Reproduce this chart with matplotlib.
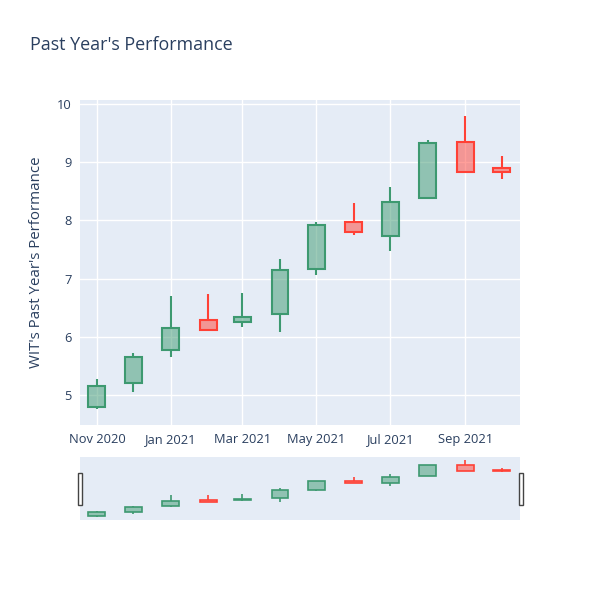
import matplotlib
matplotlib.use("Agg")
import matplotlib.pyplot as plt
import matplotlib.dates as mdates
from matplotlib.patches import Rectangle
import datetime as dt

plt.rcParams['font.family'] = ['Open Sans', 'DejaVu Sans']

dates = ["2020-11-01", "2020-12-01", "2021-01-01", "2021-02-01", "2021-03-01", "2021-04-01",
         "2021-05-01", "2021-06-01", "2021-07-01", "2021-08-01", "2021-09-01", "2021-10-01"]
opens  = [4.80, 5.21, 5.77, 6.29, 6.25, 6.40, 7.16, 7.97, 7.74, 8.39, 9.35, 8.91]
highs  = [5.27, 5.73, 6.71, 6.73, 6.76, 7.34, 7.97, 8.30, 8.58, 9.38, 9.80, 9.11]
lows   = [4.76, 5.05, 5.66, 6.10, 6.17, 6.09, 7.07, 7.75, 7.48, 8.39, 8.82, 8.71]
closes = [5.15, 5.65, 6.15, 6.12, 6.34, 7.15, 7.93, 7.80, 8.32, 9.33, 8.83, 8.84]
tick_dates = ["2020-11-01", "2021-01-01", "2021-03-01", "2021-05-01", "2021-07-01", "2021-09-01"]
tick_labels = ["Nov 2020", "Jan 2021", "Mar 2021", "May 2021", "Jul 2021", "Sep 2021"]
yticks = [5, 6, 7, 8, 9, 10]

INC = "#3D9970"
DEC = "#FF4136"
BG = "#E5ECF6"
TXT = "#2a3f5f"

x = [mdates.date2num(dt.datetime.strptime(d, "%Y-%m-%d")) for d in dates]
xt = [mdates.date2num(dt.datetime.strptime(d, "%Y-%m-%d")) for d in tick_dates]
xmin = mdates.date2num(dt.datetime(2020, 10, 18))
xmax = mdates.date2num(dt.datetime(2021, 10, 16))
ylo, yhi = 4.485, 10.07

fig = plt.figure(figsize=(6, 6), dpi=100)
ax = fig.add_axes([80/600, 175/600, 440/600, 325/600])
sl = fig.add_axes([80/600, 80/600, 440/600, 63/600])

W = 14.0

def draw(a, lw):
    for xi, o, h, l, c in zip(x, opens, highs, lows, closes):
        col = INC if c >= o else DEC
        lo_b, hi_b = min(o, c), max(o, c)
        a.bar(xi, hi_b - lo_b, bottom=lo_b, width=W, color=col, alpha=0.5, zorder=3, linewidth=0)
        a.bar(xi, hi_b - lo_b, bottom=lo_b, width=W, facecolor="none", edgecolor=col, linewidth=lw, zorder=4)
        a.vlines(xi, l, lo_b, color=col, linewidth=lw, zorder=3)
        a.vlines(xi, hi_b, h, color=col, linewidth=lw, zorder=3)

for a in (ax, sl):
    a.set_facecolor(BG)
    for s in a.spines.values():
        s.set_visible(False)
    a.set_xlim(xmin, xmax)
    a.set_ylim(ylo, yhi)

draw(ax, 1.5)
draw(sl, 1.2)

ax.set_xticks(xt)
ax.set_xticklabels(tick_labels)
ax.set_yticks(yticks)
ax.set_yticklabels([str(v) for v in yticks])
ax.tick_params(length=0, labelsize=9.3, labelcolor=TXT, pad=6)
ax.grid(True, color="white", linewidth=1.0, zorder=0)
ax.set_axisbelow(True)
ax.set_ylabel("WIT's Past Year's Performance", fontsize=10.8, color=TXT, labelpad=9.5)

sl.set_xticks([])
sl.set_yticks([])

# range slider handles
for hx in (77.5/600, 518.5/600):
    fig.patches.append(Rectangle((hx, 95/600), 4/600, 32/600, transform=fig.transFigure,
                                 facecolor="white", edgecolor="#444444", linewidth=1.0))

fig.text(30/600, 1 - 45/600, "Past Year's Performance", fontsize=12.9, color=TXT,
         ha="left", va="center")

fig.savefig("out.png", dpi=100)
